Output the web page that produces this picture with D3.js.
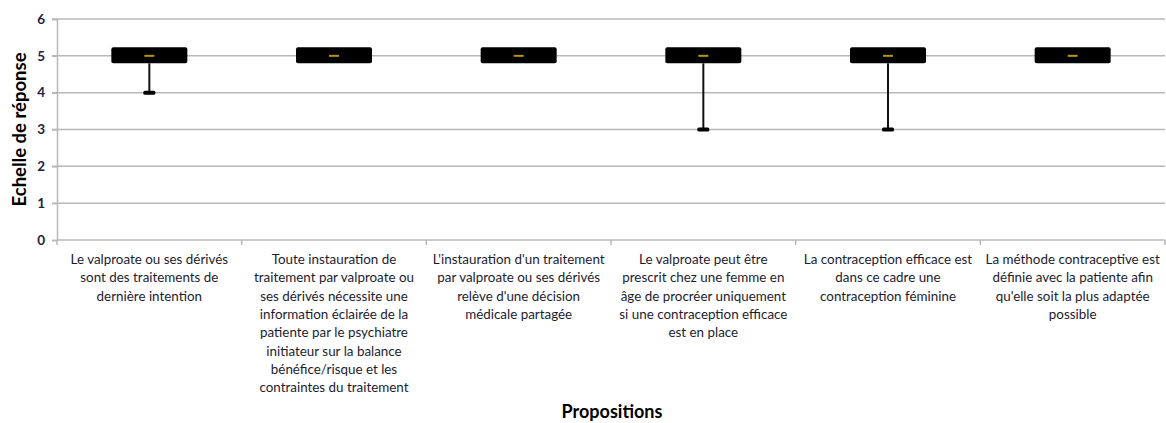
<!DOCTYPE html>
<html>
<head>
<meta charset="utf-8">
<script src="https://cdn.jsdelivr.net/npm/d3@7"></script>
<style>
  html, body { margin: 0; padding: 0; background: #fff; overflow: hidden; }
  svg { display: block; }
  text { font-family: Lato, "Open Sans", sans-serif; }
</style>
</head>
<body>
<svg id="chart" width="1166" height="423"></svg>
<script>
// Propositions (line breaks as shown under each box)
const categories = [
  "Le valproate ou ses dérivés\nsont des traitements de\ndernière intention",
  "Toute instauration de\ntraitement par valproate ou\nses dérivés nécessite une\ninformation éclairée de la\npatiente par le psychiatre\ninitiateur sur la balance\nbénéfice/risque et les\ncontraintes du traitement",
  "L'instauration d'un traitement\npar valproate ou ses dérivés\nrelève d'une décision\nmédicale partagée",
  "Le valproate peut être\nprescrit chez une femme en\nâge de procréer uniquement\nsi une contraception efficace\nest en place",
  "La contraception efficace est\ndans ce cadre une\ncontraception féminine",
  "La méthode contraceptive est\ndéfinie avec la patiente afin\nqu'elle soit la plus adaptée\npossible"
];
// Five-number summary per proposition
const minValues    = [4, 5, 5, 3, 3, 5];
const q1Values     = [5, 5, 5, 5, 5, 5];
const medianValues = [5, 5, 5, 5, 5, 5];
const q3Values     = [5, 5, 5, 5, 5, 5];
const maxValues    = [5, 5, 5, 5, 5, 5];
const yTicks = [0, 1, 2, 3, 4, 5, 6];

const margin = { left: 57, right: 1, top: 19, bottom: 183 };
const W = 1166, H = 423;
const svg = d3.select("#chart");

const x = d3.scaleBand()
  .domain(categories.map((d, i) => i))
  .range([margin.left, W - margin.right])
  .padding(0);
const y = d3.scaleLinear().domain([0, 6]).range([H - margin.bottom, margin.top]);

const gridColor = "#b8b8b8";

// horizontal grid
svg.append("g").selectAll("line").data(yTicks.filter(t => t > 0)).join("line")
  .attr("x1", margin.left - 5).attr("x2", W - margin.right)
  .attr("y1", d => y(d)).attr("y2", d => y(d))
  .attr("stroke", gridColor).attr("stroke-width", 1.5);

// y axis
const yAxis = svg.append("g")
  .attr("transform", `translate(${margin.left},0)`)
  .call(d3.axisLeft(y).tickValues(yTicks).tickSize(5).tickPadding(7).tickFormat(d3.format("d")));
yAxis.select(".domain").attr("stroke", gridColor).attr("stroke-width", 1.5);
yAxis.selectAll(".tick line").attr("stroke", gridColor).attr("stroke-width", 1.5);
yAxis.selectAll(".tick text")
  .attr("fill", "#1c2340").style("font-size", "13.5px").style("font-weight", "bold")
  .style("font-family", "Lato, sans-serif");

// x axis baseline with boundary ticks
svg.append("line")
  .attr("x1", margin.left).attr("x2", W - margin.right)
  .attr("y1", y(0)).attr("y2", y(0))
  .attr("stroke", gridColor).attr("stroke-width", 1.5);
const boundaries = categories.map((d, i) => x(i)).concat([x(categories.length - 1) + x.bandwidth()]);
svg.append("g").selectAll("line").data(boundaries).join("line")
  .attr("x1", d => d).attr("x2", d => d)
  .attr("y1", y(0)).attr("y2", y(0) + 5)
  .attr("stroke", gridColor).attr("stroke-width", 1.5);

// category labels
const labelG = svg.append("g");
categories.forEach((c, i) => {
  const cx = x(i) + x.bandwidth() / 2;
  const t = labelG.append("text")
    .attr("x", cx).attr("y", y(0) + 24)
    .attr("text-anchor", "middle")
    .attr("fill", "#1c1c30")
    .style("font-size", "13.4px");
  c.split("\n").forEach((line, k) => {
    t.append("tspan").attr("x", cx).attr("dy", k === 0 ? 0 : 18.3).text(line);
  });
});

// box plots
const boxW = 76, capW = 12, capH = 4, padTop = 8.5, padBot = 7.5;
const boxes = svg.append("g");
categories.forEach((c, i) => {
  const cx = x(i) + x.bandwidth() / 2;
  const top = y(q3Values[i]) - padTop;
  const bot = y(q1Values[i]) + padBot;
  // lower whisker
  if (minValues[i] < q1Values[i]) {
    boxes.append("line")
      .attr("x1", cx).attr("x2", cx)
      .attr("y1", bot).attr("y2", y(minValues[i]))
      .attr("stroke", "#111").attr("stroke-width", 2);
    boxes.append("rect")
      .attr("x", cx - capW / 2).attr("y", y(minValues[i]) - capH / 2)
      .attr("width", capW).attr("height", capH).attr("rx", 1.5)
      .attr("fill", "#000");
  }
  // upper whisker
  if (maxValues[i] > q3Values[i]) {
    boxes.append("line")
      .attr("x1", cx).attr("x2", cx)
      .attr("y1", top).attr("y2", y(maxValues[i]))
      .attr("stroke", "#111").attr("stroke-width", 2);
  }
  boxes.append("rect")
    .attr("x", cx - boxW / 2).attr("y", top)
    .attr("width", boxW).attr("height", bot - top)
    .attr("rx", 2).attr("fill", "#000");
  boxes.append("line")
    .attr("x1", cx - 5).attr("x2", cx + 5)
    .attr("y1", y(medianValues[i])).attr("y2", y(medianValues[i]))
    .attr("stroke", "#b8940a").attr("stroke-width", 2);
});

// axis titles
svg.append("text")
  .attr("transform", `translate(26,${(y(0) + y(6)) / 2}) rotate(-90)`)
  .attr("text-anchor", "middle")
  .attr("fill", "#000")
  .style("font-size", "18.5px").style("font-weight", "bold")
  .text("Echelle de réponse");
svg.append("text")
  .attr("x", 612).attr("y", 418)
  .attr("text-anchor", "middle")
  .attr("fill", "#000")
  .style("font-size", "18px").style("font-weight", "bold")
  .text("Propositions");
</script>
</body>
</html>
